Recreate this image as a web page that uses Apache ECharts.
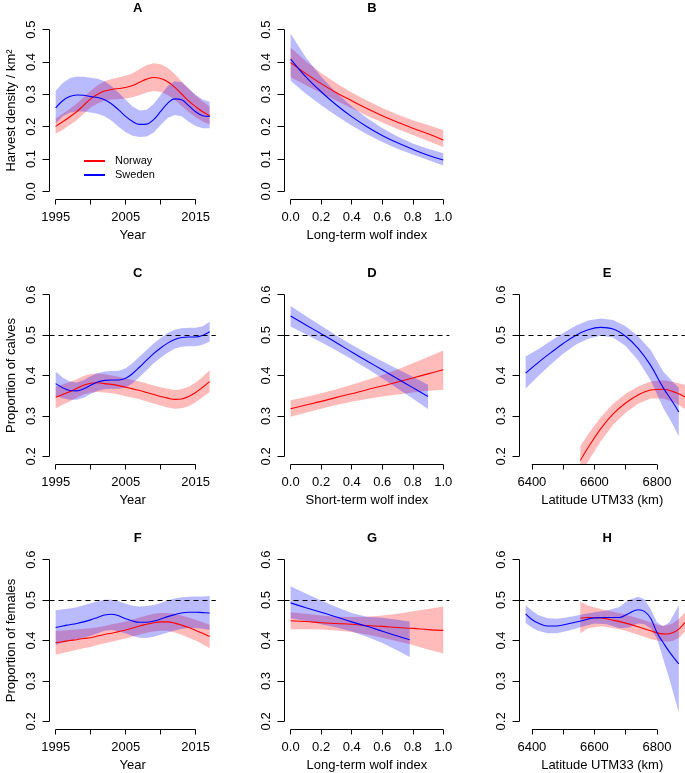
<!DOCTYPE html>
<html>
<head>
<meta charset="utf-8">
<script src="https://cdn.jsdelivr.net/npm/echarts@6/dist/echarts.min.js"></script>
<style>
html,body{margin:0;padding:0;background:#fff;}
#chart{width:685px;height:773px;}
</style>
</head>
<body>
<div id="chart"></div>
<script>
// ---------------- DATA ----------------
const YEAR = [1995,1996,1997,1998,1999,2000,2001,2002,2003,2004,2005,2006,2007,2008,2009,2010,2011,2012,2013,2014,2015,2016,2017];
const IDX = [0,0.1,0.2,0.3,0.4,0.5,0.6,0.7,0.8,0.9,1.0];
const IDX_D_SWE = [0,0.1,0.2,0.3,0.4,0.5,0.6,0.7,0.8,0.9];
const IDX_G_SWE = [0,0.1,0.2,0.3,0.4,0.5,0.6,0.7,0.78];
const LAT_E_SWE = [6380,6420,6460,6500,6540,6580,6620,6660,6700,6740,6780,6820,6850,6870];
const LAT_E_NOR = [6555,6580,6620,6660,6700,6740,6780,6820,6860,6890];
const LAT_H_SWE = [6380,6400,6420,6450,6480,6520,6560,6600,6640,6680,6710,6740,6760,6780,6800,6820,6840,6870];
const LAT_H_NOR = [6555,6580,6620,6660,6700,6740,6780,6810,6830,6850,6870,6890];

// A: harvest density vs year
const A_NOR    = [0.201,0.215,0.230,0.246,0.266,0.286,0.300,0.310,0.315,0.318,0.321,0.327,0.337,0.347,0.352,0.349,0.339,0.322,0.301,0.280,0.262,0.246,0.234];
const A_NOR_HI = [0.225,0.240,0.255,0.272,0.291,0.311,0.328,0.340,0.347,0.352,0.357,0.365,0.378,0.390,0.396,0.393,0.382,0.363,0.340,0.317,0.297,0.278,0.262];
const A_NOR_LO = [0.178,0.190,0.205,0.220,0.240,0.259,0.272,0.281,0.284,0.285,0.287,0.291,0.298,0.306,0.310,0.307,0.298,0.283,0.264,0.245,0.229,0.216,0.207];
const A_SWE    = [0.258,0.280,0.293,0.298,0.297,0.293,0.290,0.283,0.270,0.252,0.232,0.216,0.207,0.208,0.222,0.247,0.272,0.286,0.283,0.265,0.246,0.234,0.232];
const A_SWE_HI = [0.310,0.335,0.350,0.355,0.354,0.351,0.348,0.340,0.325,0.305,0.283,0.262,0.250,0.252,0.270,0.298,0.325,0.340,0.337,0.318,0.298,0.284,0.277];
const A_SWE_LO = [0.210,0.232,0.243,0.247,0.247,0.244,0.240,0.232,0.218,0.200,0.183,0.172,0.168,0.170,0.182,0.205,0.227,0.236,0.232,0.215,0.202,0.195,0.195];

// B: harvest density vs long-term wolf index
const B_NOR    = [0.398,0.364,0.333,0.305,0.280,0.256,0.234,0.214,0.195,0.178,0.159];
const B_NOR_HI = [0.445,0.402,0.366,0.334,0.306,0.281,0.258,0.238,0.220,0.205,0.190];
const B_NOR_LO = [0.353,0.328,0.304,0.280,0.257,0.234,0.213,0.193,0.174,0.156,0.137];
const B_SWE    = [0.409,0.354,0.308,0.267,0.231,0.200,0.173,0.150,0.130,0.112,0.097];
const B_SWE_HI = [0.488,0.414,0.354,0.305,0.263,0.227,0.196,0.170,0.148,0.132,0.118];
const B_SWE_LO = [0.342,0.302,0.266,0.234,0.204,0.177,0.153,0.132,0.114,0.097,0.080];

// C: proportion of calves vs year
const C_NOR    = [0.346,0.353,0.360,0.368,0.376,0.381,0.382,0.380,0.378,0.375,0.371,0.367,0.363,0.358,0.353,0.348,0.344,0.341,0.342,0.348,0.358,0.371,0.385];
const C_NOR_HI = [0.372,0.378,0.384,0.391,0.399,0.404,0.405,0.403,0.400,0.397,0.393,0.389,0.385,0.380,0.375,0.371,0.367,0.364,0.366,0.372,0.383,0.397,0.413];
const C_NOR_LO = [0.319,0.328,0.336,0.345,0.353,0.358,0.359,0.358,0.356,0.353,0.349,0.345,0.341,0.336,0.331,0.326,0.321,0.318,0.319,0.324,0.334,0.346,0.359];
const C_SWE    = [0.380,0.370,0.363,0.362,0.367,0.376,0.384,0.388,0.389,0.389,0.393,0.405,0.421,0.438,0.454,0.468,0.480,0.489,0.494,0.495,0.495,0.499,0.508];
const C_SWE_HI = [0.410,0.395,0.385,0.383,0.388,0.398,0.406,0.410,0.411,0.412,0.418,0.431,0.447,0.463,0.479,0.493,0.505,0.513,0.517,0.518,0.518,0.522,0.533];
const C_SWE_LO = [0.350,0.344,0.340,0.340,0.345,0.354,0.362,0.366,0.367,0.367,0.370,0.381,0.396,0.413,0.430,0.444,0.456,0.466,0.471,0.472,0.472,0.476,0.484];

// D: proportion of calves vs short-term wolf index
const D_NOR    = [0.318,0.327,0.336,0.346,0.355,0.365,0.374,0.384,0.394,0.404,0.414];
const D_NOR_HI = [0.339,0.347,0.356,0.366,0.377,0.389,0.401,0.415,0.430,0.446,0.462];
const D_NOR_LO = [0.298,0.308,0.318,0.327,0.335,0.342,0.348,0.353,0.358,0.362,0.365];
const D_SWE    = [0.547,0.525,0.503,0.481,0.458,0.436,0.414,0.392,0.370,0.348];
const D_SWE_HI = [0.572,0.547,0.523,0.499,0.476,0.455,0.435,0.416,0.397,0.377];
const D_SWE_LO = [0.521,0.502,0.482,0.462,0.440,0.417,0.393,0.368,0.343,0.317];

// E: proportion of calves vs latitude
const E_NOR    = [0.190,0.222,0.268,0.305,0.332,0.352,0.364,0.366,0.358,0.347];
const E_NOR_HI = [0.226,0.255,0.297,0.330,0.355,0.373,0.385,0.388,0.383,0.377];
const E_NOR_LO = [0.153,0.188,0.237,0.278,0.308,0.330,0.343,0.343,0.332,0.317];
const E_SWE    = [0.406,0.432,0.456,0.479,0.499,0.513,0.519,0.515,0.497,0.467,0.425,0.370,0.335,0.310];
const E_SWE_HI = [0.447,0.465,0.485,0.505,0.523,0.536,0.541,0.537,0.522,0.497,0.463,0.410,0.385,0.370];
const E_SWE_LO = [0.368,0.398,0.427,0.454,0.476,0.491,0.498,0.494,0.473,0.437,0.388,0.320,0.280,0.250];

// F: proportion of females vs year
const F_NOR    = [0.395,0.397,0.400,0.402,0.405,0.407,0.411,0.415,0.418,0.422,0.426,0.431,0.436,0.440,0.444,0.446,0.446,0.443,0.438,0.432,0.425,0.418,0.410];
const F_NOR_HI = [0.424,0.425,0.426,0.427,0.429,0.430,0.433,0.436,0.440,0.443,0.447,0.452,0.457,0.462,0.466,0.468,0.468,0.466,0.462,0.457,0.451,0.445,0.439];
const F_NOR_LO = [0.365,0.369,0.373,0.377,0.381,0.384,0.389,0.393,0.397,0.401,0.405,0.410,0.415,0.419,0.422,0.424,0.424,0.420,0.414,0.407,0.400,0.391,0.381];
const F_SWE    = [0.432,0.436,0.439,0.442,0.446,0.451,0.457,0.463,0.465,0.461,0.454,0.448,0.445,0.445,0.448,0.453,0.459,0.464,0.468,0.470,0.470,0.469,0.468];
const F_SWE_HI = [0.475,0.477,0.479,0.482,0.487,0.492,0.497,0.501,0.501,0.497,0.491,0.486,0.484,0.485,0.488,0.493,0.499,0.504,0.507,0.508,0.509,0.509,0.510];
const F_SWE_LO = [0.389,0.395,0.399,0.403,0.407,0.412,0.418,0.424,0.426,0.423,0.417,0.411,0.407,0.406,0.409,0.414,0.420,0.425,0.429,0.431,0.431,0.429,0.426];

// G: proportion of females vs long-term wolf index
const G_NOR    = [0.449,0.447,0.444,0.442,0.440,0.437,0.435,0.432,0.430,0.427,0.425];
const G_NOR_HI = [0.470,0.466,0.462,0.459,0.458,0.459,0.462,0.466,0.472,0.478,0.484];
const G_NOR_LO = [0.428,0.428,0.427,0.425,0.421,0.415,0.407,0.398,0.389,0.378,0.368];
const G_SWE    = [0.493,0.481,0.470,0.458,0.446,0.435,0.423,0.411,0.402];
const G_SWE_HI = [0.534,0.516,0.499,0.483,0.468,0.459,0.456,0.451,0.447];
const G_SWE_LO = [0.455,0.448,0.440,0.432,0.422,0.409,0.394,0.375,0.359];

// H: proportion of females vs latitude
const H_NOR    = [0.455,0.457,0.456,0.450,0.443,0.434,0.424,0.417,0.416,0.419,0.428,0.445];
const H_NOR_HI = [0.496,0.486,0.478,0.471,0.464,0.455,0.445,0.437,0.437,0.442,0.453,0.469];
const H_NOR_LO = [0.418,0.430,0.435,0.431,0.424,0.414,0.404,0.398,0.397,0.399,0.406,0.422];
const H_SWE    = [0.466,0.452,0.443,0.436,0.436,0.442,0.449,0.456,0.457,0.457,0.467,0.476,0.472,0.455,0.420,0.395,0.372,0.342];
const H_SWE_HI = [0.487,0.474,0.463,0.455,0.454,0.458,0.464,0.470,0.474,0.483,0.500,0.508,0.502,0.478,0.445,0.435,0.445,0.487];
const H_SWE_LO = [0.443,0.432,0.424,0.418,0.418,0.425,0.434,0.442,0.440,0.430,0.432,0.442,0.440,0.430,0.405,0.355,0.305,0.222];

// tick values
const YEAR_TICKS = [1995,2000,2005,2010,2015];
const YEAR_LABELS = [1995,2005,2015];
const IDX_TICKS = [0,0.2,0.4,0.6,0.8,1.0];
const LAT_TICKS = [6400,6500,6600,6700,6800];
const LAT_LABELS = [6400,6600,6800];
const DENS_TICKS = [0,0.1,0.2,0.3,0.4,0.5];
const PROP_TICKS = [0.2,0.3,0.4,0.5,0.6];
const REF_LINE = 0.5;

// ---------------- LAYOUT / STYLE ----------------
const FONT = '"Liberation Sans", Arial, Helvetica, sans-serif';
const FS = 13;
const RED = '#ff0000', BLUE = '#0000ff';
const RED_BAND = 'rgba(255,0,0,0.27)', BLUE_BAND = 'rgba(0,0,255,0.27)';
const COLS = [
  {left:49.5,  width:166.3, min:1994.12, max:2017.88},
  {left:284.5, width:164.9, min:-0.04,   max:1.04},
  {left:519.5, width:165.4, min:6360.4,  max:6889.6}
];
const ROWS = [
  {top:21.5,  height:178, min:-0.025, max:0.525},
  {top:286.5, height:178, min:0.18,   max:0.62},
  {top:551.5, height:178, min:0.18,   max:0.62}
];

const yearFmt = v => String(Math.round(v));
const decFmt = v => v.toFixed(1);

const PANELS = [
  {t:'A', r:0, c:0, xname:'Year', yname:'Harvest density / km\u00B2', xt:YEAR_TICKS, xl:YEAR_LABELS, xf:yearFmt, yt:DENS_TICKS, ref:false,
   nor:[YEAR,A_NOR,A_NOR_LO,A_NOR_HI], swe:[YEAR,A_SWE,A_SWE_LO,A_SWE_HI]},
  {t:'B', r:0, c:1, xname:'Long-term wolf index', yname:'', xt:IDX_TICKS, xl:IDX_TICKS, xf:decFmt, yt:DENS_TICKS, ref:false,
   nor:[IDX,B_NOR,B_NOR_LO,B_NOR_HI], swe:[IDX,B_SWE,B_SWE_LO,B_SWE_HI]},
  {t:'C', r:1, c:0, xname:'Year', yname:'Proportion of calves', xt:YEAR_TICKS, xl:YEAR_LABELS, xf:yearFmt, yt:PROP_TICKS, ref:true,
   nor:[YEAR,C_NOR,C_NOR_LO,C_NOR_HI], swe:[YEAR,C_SWE,C_SWE_LO,C_SWE_HI]},
  {t:'D', r:1, c:1, xname:'Short-term wolf index', yname:'', xt:IDX_TICKS, xl:IDX_TICKS, xf:decFmt, yt:PROP_TICKS, ref:true,
   nor:[IDX,D_NOR,D_NOR_LO,D_NOR_HI], swe:[IDX_D_SWE,D_SWE,D_SWE_LO,D_SWE_HI]},
  {t:'E', r:1, c:2, xname:'Latitude UTM33 (km)', yname:'', xt:LAT_TICKS, xl:LAT_LABELS, xf:yearFmt, yt:PROP_TICKS, ref:true,
   nor:[LAT_E_NOR,E_NOR,E_NOR_LO,E_NOR_HI], swe:[LAT_E_SWE,E_SWE,E_SWE_LO,E_SWE_HI]},
  {t:'F', r:2, c:0, xname:'Year', yname:'Proportion of females', xt:YEAR_TICKS, xl:YEAR_LABELS, xf:yearFmt, yt:PROP_TICKS, ref:true,
   nor:[YEAR,F_NOR,F_NOR_LO,F_NOR_HI], swe:[YEAR,F_SWE,F_SWE_LO,F_SWE_HI]},
  {t:'G', r:2, c:1, xname:'Long-term wolf index', yname:'', xt:IDX_TICKS, xl:IDX_TICKS, xf:decFmt, yt:PROP_TICKS, ref:true,
   nor:[IDX,G_NOR,G_NOR_LO,G_NOR_HI], swe:[IDX_G_SWE,G_SWE,G_SWE_LO,G_SWE_HI]},
  {t:'H', r:2, c:2, xname:'Latitude UTM33 (km)', yname:'', xt:LAT_TICKS, xl:LAT_LABELS, xf:yearFmt, yt:PROP_TICKS, ref:true,
   nor:[LAT_H_NOR,H_NOR,H_NOR_LO,H_NOR_HI], swe:[LAT_H_SWE,H_SWE,H_SWE_LO,H_SWE_HI]}
];

function bandSeries(i, name, arr, fill) {
  const xs = arr[0], lo = arr[2], hi = arr[3];
  return {
    type:'custom', name:name, xAxisIndex:i, yAxisIndex:i, silent:true, clip:true,
    data: xs.map((x,k)=>[x, lo[k], hi[k]]),
    encode:{x:0, y:[1,2]},
    renderItem:function(params, api){
      if (params.dataIndex !== 0) return null;
      const pts = [];
      for (let k=0;k<xs.length;k++) pts.push(api.coord([xs[k], hi[k]]));
      for (let k=xs.length-1;k>=0;k--) pts.push(api.coord([xs[k], lo[k]]));
      return {type:'polygon', shape:{points:pts}, style:{fill:fill, stroke:null}};
    }
  };
}
function lineSeries(i, name, arr, color, ref) {
  const xs = arr[0], ys = arr[1];
  const s = {
    type:'line', name:name, xAxisIndex:i, yAxisIndex:i, silent:true, clip:true,
    data: xs.map((x,k)=>[x, ys[k]]),
    showSymbol:false, symbol:'none', smooth:0.4,
    lineStyle:{color:color, width:1.1}, itemStyle:{color:color},
    emphasis:{disabled:true}
  };
  if (ref) {
    s.markLine = {silent:true, symbol:'none', label:{show:false}, animation:false,
      lineStyle:{color:'#000', width:1, type:[5,4]}, emphasis:{disabled:true},
      data:[{yAxis:REF_LINE}]};
  }
  return s;
}
function axesSeries(i, p, col, row) {
  return {
    type:'custom', xAxisIndex:i, yAxisIndex:i, silent:true, clip:false, z:5,
    data:[[col.min, row.min]],
    renderItem:function(params, api){
      const a = api.coord([p.xt[0], row.min]);
      const b = api.coord([p.xt[p.xt.length-1], row.min]);
      const c = api.coord([col.min, p.yt[0]]);
      const d = api.coord([col.min, p.yt[p.yt.length-1]]);
      return {type:'group', children:[
        {type:'line', shape:{x1:a[0],y1:a[1],x2:b[0],y2:b[1]}, style:{stroke:'#000', lineWidth:1}},
        {type:'line', shape:{x1:c[0],y1:c[1],x2:d[0],y2:d[1]}, style:{stroke:'#000', lineWidth:1}}
      ]};
    }
  };
}

const option = {
  animation:false,
  backgroundColor:'#fff',
  textStyle:{fontFamily:FONT, color:'#000'},
  grid:[], xAxis:[], yAxis:[], series:[], title:[],
  legend:[
    {data:['Norway'], left:79, top:149, orient:'vertical', icon:'rect', itemWidth:21, itemHeight:2,
     selectedMode:false, textStyle:{fontFamily:FONT, fontSize:11, color:'#000', padding:[0,0,0,5], lineHeight:14}},
    {data:['Sweden'], left:79, top:163, orient:'vertical', icon:'rect', itemWidth:21, itemHeight:2,
     selectedMode:false, textStyle:{fontFamily:FONT, fontSize:11, color:'#000', padding:[0,0,0,5], lineHeight:14}}
  ]
};

PANELS.forEach((p, i) => {
  const col = COLS[p.c], row = ROWS[p.r];
  option.grid.push({left:col.left, top:row.top, width:col.width, height:row.height, containLabel:false});
  option.xAxis.push({
    type:'value', gridIndex:i, min:col.min, max:col.max,
    name:p.xname, nameLocation:'middle', nameGap:29,
    nameTextStyle:{fontFamily:FONT, fontSize:FS, color:'#000'},
    axisLine:{show:false, onZero:false}, splitLine:{show:false},
    axisTick:{show:true, length:5, customValues:p.xt, lineStyle:{color:'#000', width:1}},
    axisLabel:{show:true, customValues:p.xl, formatter:p.xf, fontFamily:FONT, fontSize:FS, color:'#000', margin:11, hideOverlap:false}
  });
  option.yAxis.push({
    type:'value', gridIndex:i, min:row.min, max:row.max,
    name:p.yname, nameLocation:'middle', nameGap:32, nameRotate:90,
    nameTextStyle:{fontFamily:FONT, fontSize:FS, color:'#000'},
    axisLine:{show:false, onZero:false}, splitLine:{show:false},
    axisTick:{show:true, length:7, customValues:p.yt, lineStyle:{color:'#000', width:1}},
    axisLabel:{show:true, customValues:p.yt, formatter:decFmt, rotate:90, fontFamily:FONT, fontSize:FS, color:'#000', margin:12, hideOverlap:false}
  });
  option.series.push(bandSeries(i, 'Norway band', p.nor, RED_BAND));
  option.series.push(bandSeries(i, 'Sweden band', p.swe, BLUE_BAND));
  option.series.push(lineSeries(i, 'Norway', p.nor, RED, p.ref));
  option.series.push(lineSeries(i, 'Sweden', p.swe, BLUE, false));
  option.series.push(axesSeries(i, p, col, row));
  option.title.push({
    text:p.t, left:col.left + col.width/2, top:row.top - 24.5, textAlign:'center',
    textStyle:{fontFamily:FONT, fontSize:FS, fontWeight:'bold', color:'#000'}
  });
});

const chart = echarts.init(document.getElementById('chart'), null, {renderer:'canvas'});
chart.setOption(option);
</script>
</body>
</html>
